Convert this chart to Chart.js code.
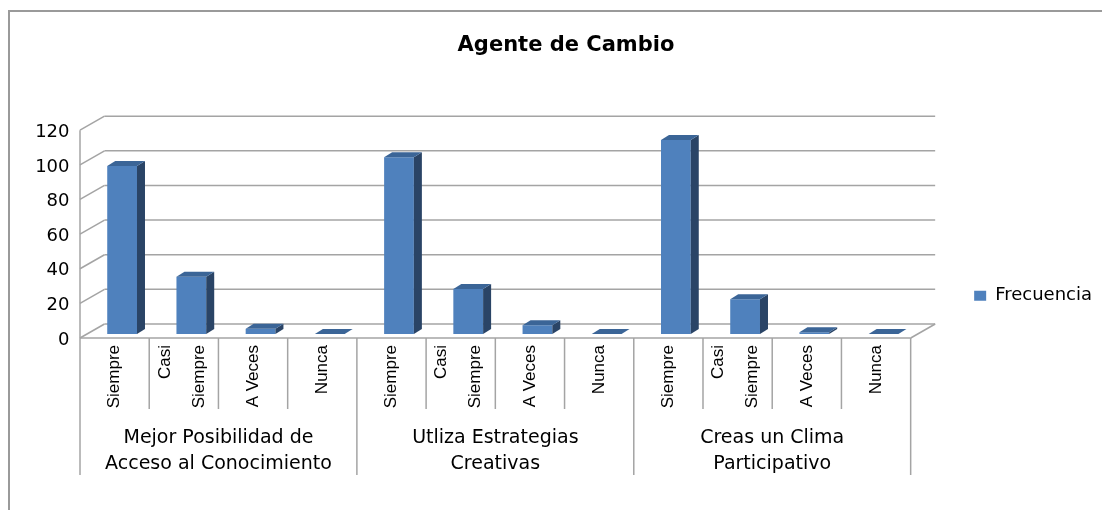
<!DOCTYPE html>
<html>
<head>
<meta charset="utf-8">
<script src="https://cdn.jsdelivr.net/npm/chart.js@4.4.1/dist/chart.umd.min.js"></script>
<style>
  body { margin: 0; background: #fff; }
  #wrap { position: relative; width: 1102px; height: 510px; overflow: hidden; }
  #frame { position: absolute; left: 8px; top: 10px; width: 1200px; height: 600px; border: 2px solid #9a9a9a; }
  #chart { position: absolute; left: 0; top: 0; }
</style>
</head>
<body>
<div id="wrap">
  <div id="frame"></div>
  <canvas id="chart" width="1102" height="510"></canvas>
</div>
<script>
"use strict";

// data (each group adds up to 133)
var groups = [
    ["Mejor Posibilidad de", "Acceso al Conocimiento"],
    ["Utliza Estrategias", "Creativas"],
    ["Creas un Clima", "Participativo"]
];
var answers = ["Siempre", ["Casi", "Siempre"], "A Veces", "Nunca"];
var frecuencia = [97, 33, 3, 0, 102, 26, 5, 0, 112, 20, 1, 0];
var yMax = 120, yStep = 20;

var categories = [];
groups.forEach(function () {
    answers.forEach(function (a) { categories.push(a); });
});

// offsets of the front plane / back wall relative to the bar plane
var FRONT = { dx: -7.5, dy: 4 };
var BACK = { dx: 17, dy: -10 };
var DEPTH = { dx: 8, dy: -5 };

function line(ctx, x1, y1, x2, y2) {
    ctx.beginPath();
    ctx.moveTo(x1, y1);
    ctx.lineTo(x2, y2);
    ctx.stroke();
}

var box3d = {
    id: 'box3d',
    beforeDraw: function (chart) {
        // spread the two lines of "Casi / Siempre" around the tick
        chart.scales.x.getLabelItems().forEach(function (item) {
            if (Array.isArray(item.label)) {
                item.options.translation[0] -= 19;
            }
        });
    },
    beforeDatasetsDraw: function (chart) {
        var ctx = chart.ctx, a = chart.chartArea, y = chart.scales.y;
        var x = chart.scales.x, x2 = chart.scales.x2;
        var p0 = y.getPixelForValue(0), pTop = y.getPixelForValue(yMax);
        ctx.save();
        ctx.strokeStyle = '#a4a4a4';
        ctx.lineWidth = 1.5;
        // back wall grid + little diagonals to the axis
        y.ticks.forEach(function (t) {
            var py = y.getPixelForValue(t.value);
            line(ctx, a.left + FRONT.dx, py + FRONT.dy, a.left + BACK.dx, py + BACK.dy);
            line(ctx, a.left + BACK.dx, py + BACK.dy, a.right + BACK.dx, py + BACK.dy);
        });
        line(ctx, a.left + FRONT.dx, pTop + FRONT.dy, a.left + FRONT.dx, p0 + FRONT.dy);
        // floor
        line(ctx, a.left + FRONT.dx, p0 + FRONT.dy, a.right + FRONT.dx, p0 + FRONT.dy);
        line(ctx, a.right + FRONT.dx, p0 + FRONT.dy, a.right + BACK.dx, p0 + BACK.dy);
        // category / group separators under the axis
        var half = (a.right - a.left) / categories.length / 2;
        for (var i = 0; i <= categories.length; i++) {
            var px = (i < categories.length ? x.getPixelForValue(i) - half : x.getPixelForValue(i - 1) + half) + FRONT.dx;
            var bottom = (i % answers.length === 0) ? x2.bottom : x.bottom;
            line(ctx, px, p0 + FRONT.dy, px, bottom);
        }
        ctx.restore();
    },
    afterDatasetsDraw: function (chart) {
        var ctx = chart.ctx;
        var meta = chart.getDatasetMeta(0);
        ctx.save();
        meta.data.forEach(function (bar) {
            var l = bar.x - bar.width / 2, r = bar.x + bar.width / 2;
            var top = bar.y, base = bar.base;
            // side
            ctx.fillStyle = '#2a4466';
            ctx.beginPath();
            ctx.moveTo(r, top);
            ctx.lineTo(r + DEPTH.dx, top + DEPTH.dy);
            ctx.lineTo(r + DEPTH.dx, base + DEPTH.dy);
            ctx.lineTo(r, base);
            ctx.closePath();
            ctx.fill();
            // top
            ctx.fillStyle = '#3b6597';
            ctx.beginPath();
            ctx.moveTo(l, top);
            ctx.lineTo(l + DEPTH.dx, top + DEPTH.dy);
            ctx.lineTo(r + DEPTH.dx, top + DEPTH.dy);
            ctx.lineTo(r, top);
            ctx.closePath();
            ctx.fill();
        });
        ctx.restore();
    }
};

new Chart(document.getElementById('chart').getContext('2d'), {
    type: 'bar',
    data: {
        labels: categories,
        datasets: [{
            label: 'Frecuencia',
            data: frecuencia,
            backgroundColor: '#4f81bd',
            borderWidth: 0,
            barPercentage: 0.43,
            categoryPercentage: 1
        }]
    },
    options: {
        responsive: false,
        animation: false,
        layout: { padding: { left: 30, right: 0, top: 0, bottom: 35 } },
        plugins: {
            title: {
                display: true,
                text: 'Agente de Cambio',
                color: '#000',
                font: { family: 'DejaVu Sans', size: 21, weight: 'bold' },
                padding: { top: 33, bottom: 68 }
            },
            legend: {
                position: 'right',
                align: 'center',
                title: { display: true, text: '', padding: { top: 102, bottom: 0 } },
                labels: {
                    boxWidth: 12,
                    boxHeight: 10,
                    padding: 56,
                    color: '#000',
                    font: { family: 'DejaVu Sans', size: 18 }
                }
            },
            tooltip: { enabled: false }
        },
        scales: {
            y: {
                min: 0,
                max: yMax,
                grid: { display: false, drawTicks: false },
                border: { display: false },
                ticks: {
                    stepSize: yStep,
                    padding: 18,
                    labelOffset: 6,
                    color: '#000',
                    font: { family: 'DejaVu Sans', size: 18 }
                },
                afterFit: function (s) { s.width = 57.5; }
            },
            x: {
                grid: { display: false, drawTicks: false },
                border: { display: false },
                ticks: {
                    autoSkip: false,
                    minRotation: 90,
                    maxRotation: 90,
                    padding: 11,
                    labelOffset: -7.5,
                    color: '#000',
                    font: { family: 'Liberation Sans', size: 17, lineHeight: 2 }
                },
                afterFit: function (s) { s.height = 75; }
            },
            x2: {
                type: 'category',
                labels: groups,
                position: 'bottom',
                offset: true,
                grid: { display: false, drawTicks: false },
                border: { display: false },
                ticks: {
                    maxRotation: 0,
                    padding: 17,
                    labelOffset: -7.5,
                    color: '#000',
                    font: { family: 'DejaVu Sans', size: 19, lineHeight: 1.32 }
                },
                afterFit: function (s) { s.height = 66; }
            }
        }
    },
    plugins: [box3d]
});
</script>
</body>
</html>
